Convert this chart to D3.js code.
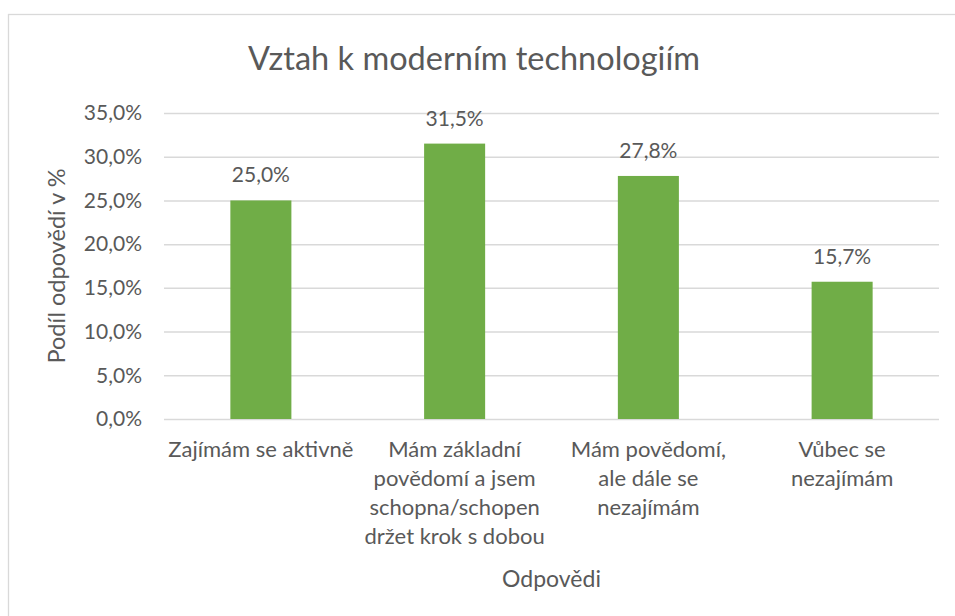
<!DOCTYPE html>
<head>
    <meta charset="utf-8">
    <title>Vztah k moderním technologiím</title>
    <style>
        body { margin: 0; background: #fff; }
        text { font-family: Lato, "Noto Sans", sans-serif; fill: #595959; }
    </style>
</head>
<body>

<svg width="955" height="616"></svg>

<script src="https://d3js.org/d3.v7.min.js"></script>

<script>
    // data
    var categories = ["Zajímám se aktivně", "Mám základní povědomí a jsem schopna/schopen držet krok s dobou", "Mám povědomí, ale dále se nezajímám", "Vůbec se nezajímám"];
    var categoryLines = [
        ["Zajímám se aktivně"],
        ["Mám základní", "povědomí a jsem", "schopna/schopen", "držet krok s dobou"],
        ["Mám povědomí,", "ale dále se", "nezajímám"],
        ["Vůbec se", "nezajímám"]
    ];
    var values = [0.250, 0.315, 0.278, 0.157];
    var yTicks = [0, 0.05, 0.10, 0.15, 0.20, 0.25, 0.30, 0.35];

    var svg = d3.select("svg"),
        width = +svg.attr("width"),
        height = +svg.attr("height");

    // czech number format, decimal comma
    var cz = d3.formatLocale({decimal: ",", thousands: " ", grouping: [3], currency: ["", " Kč"]});
    var fmt = cz.format(".1%");

    var margin = {left: 164, right: 16, top: 113, bottom: 197};

    var x = d3.scaleBand()
        .domain(categories)
        .range([margin.left, width - margin.right])
        .paddingInner(0.685)
        .paddingOuter(0.3425);

    var y = d3.scaleLinear()
        .domain([0, 0.35])
        .range([height - margin.bottom, margin.top]);

    // chart border
    svg.append("rect")
        .attr("x", 8.5)
        .attr("y", 14.5)
        .attr("width", 1000)
        .attr("height", 700)
        .attr("fill", "none")
        .attr("stroke", "#d9d9d9")
        .attr("stroke-width", 1.3);

    // title
    svg.append("text")
        .attr("x", 474)
        .attr("y", 70)
        .attr("text-anchor", "middle")
        .attr("font-size", 32.5)
        .text("Vztah k moderním technologiím");

    // y axis with grid
    var yAxis = svg.append("g")
        .attr("transform", "translate(" + margin.left + ",0)")
        .call(d3.axisLeft(y)
            .tickValues(yTicks)
            .tickFormat(fmt)
            .tickSize(-(width - margin.left - margin.right))
            .tickPadding(22));
    yAxis.select(".domain").remove();
    yAxis.selectAll("line")
        .attr("stroke", "#d9d9d9")
        .attr("stroke-width", 1.5);
    yAxis.selectAll("text")
        .attr("font-size", 21)
        .attr("font-family", "Lato, sans-serif")
        .attr("fill", "#595959");

    // bars
    svg.append("g")
        .selectAll("rect")
        .data(values)
        .enter().append("rect")
            .attr("x", function(d, i) { return x(categories[i]); })
            .attr("width", x.bandwidth())
            .attr("y", function(d) { return y(d); })
            .attr("height", function(d) { return y(0) - y(d); })
            .attr("fill", "#70ad47");

    // bar labels
    svg.append("g")
        .selectAll("text")
        .data(values)
        .enter().append("text")
            .attr("x", function(d, i) { return x(categories[i]) + x.bandwidth() / 2; })
            .attr("y", function(d) { return y(d) - 18; })
            .attr("text-anchor", "middle")
            .attr("font-size", 21)
            .text(function(d) { return fmt(d); });

    // category labels
    var cat = svg.append("g")
        .selectAll("text")
        .data(categories)
        .enter().append("text")
            .attr("x", function(d) { return x(d) + x.bandwidth() / 2; })
            .attr("y", y(0) + 38)
            .attr("text-anchor", "middle")
            .attr("font-size", 22);
    cat.selectAll("tspan")
        .data(function(d, i) { return categoryLines[i]; })
        .enter().append("tspan")
            .attr("x", function() { return d3.select(this.parentNode).attr("x"); })
            .attr("dy", function(d, i) { return i ? 29 : 0; })
            .text(function(d) { return d; });

    // axis titles
    svg.append("text")
        .attr("x", (margin.left + width - margin.right) / 2)
        .attr("y", 587)
        .attr("text-anchor", "middle")
        .attr("font-size", 23)
        .text("Odpovědi");

    svg.append("text")
        .attr("transform", "translate(65," + ((y(0) + y(0.35)) / 2) + ") rotate(-90)")
        .attr("text-anchor", "middle")
        .attr("font-size", 23.5)
        .text("Podíl odpovědí v %");
</script>

</body>
